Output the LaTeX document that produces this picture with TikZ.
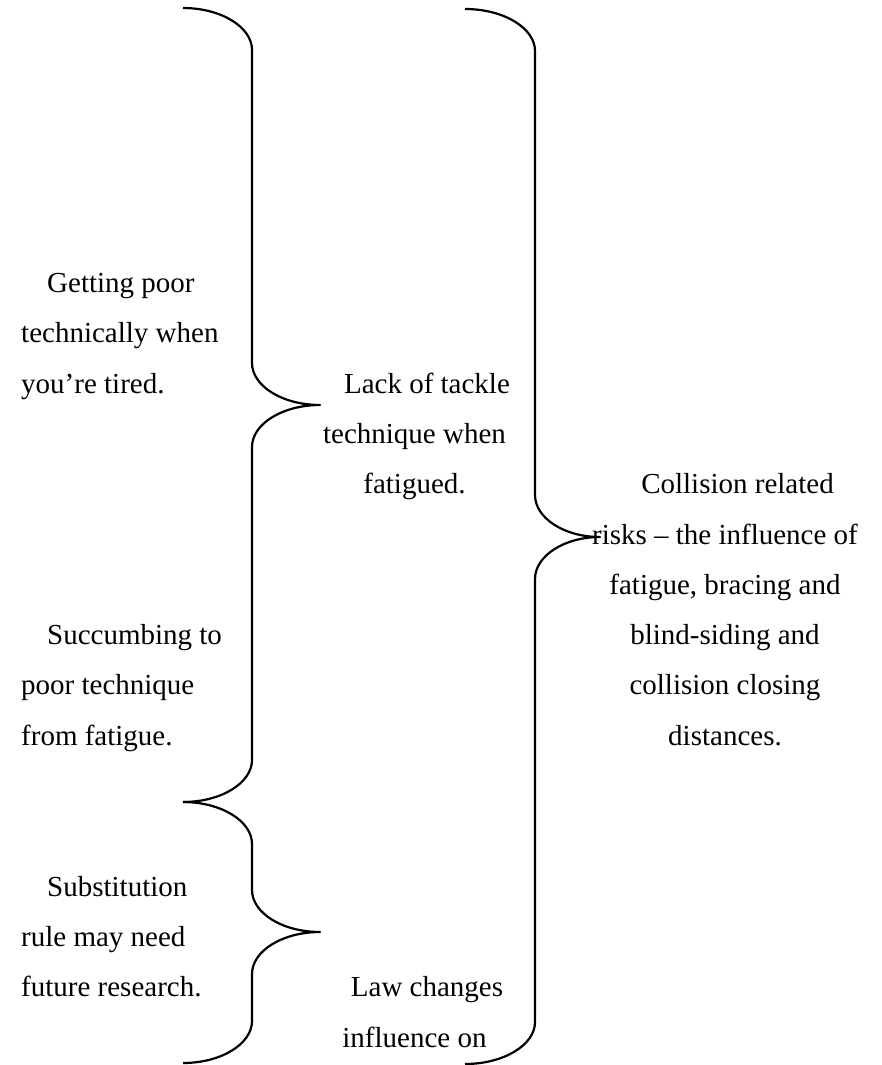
\documentclass[tikz,border=0pt]{standalone}
\usepackage{fontspec}
\setmainfont{Liberation Serif}

% Right-facing curly brace: end x, stem x, tip x, top y, tip y, bottom y
\newcommand\drawcurlybrace[6]{%
  \draw[bracestyle]
    (#1,#4) .. controls ({#1+0.552*(#2-#1)},#4) and (#2,#4+19) .. (#2,#4+42)
    -- (#2,#5-42) .. controls (#2,#5-19) and ({#3-0.552*(#3-#2)},#5) .. (#3,#5)
    .. controls ({#3-0.552*(#3-#2)},#5) and (#2,#5+19) .. (#2,#5+42)
    -- (#2,#6-42) .. controls (#2,#6-19) and ({#1+0.552*(#2-#1)},#6) .. (#1,#6);}

% text blocks are placed by the baseline of their last line
\tikzset{
  bracestyle/.style={line width=2.2pt, line join=round},
  txt/.style={inner sep=0pt, font=\fontsize{29}{50.3}\selectfont},
  lefttxt/.style={txt, align=left, anchor=base west},
  centertxt/.style={txt, align=center, anchor=base},
}

\begin{document}
\begin{tikzpicture}[x=1pt, y=-1pt]
  \useasboundingbox (0,0) rectangle (882,1065);

  % braces
  \drawcurlybrace{183}{252}{320}{8}{405}{802}
  \drawcurlybrace{183}{252}{320}{802}{932}{1063}
  \drawcurlybrace{465}{535}{600}{9}{537}{1064}

  % left column
  \node[lefttxt] (poor) at (21,393.1)
    {\hspace*{26pt}Getting poor\\technically when\\you’re tired.};
  \node[lefttxt] (succumb) at (21,745.2)
    {\hspace*{26pt}Succumbing to\\poor technique\\from fatigue.};
  \node[lefttxt] (subst) at (21,996.6)
    {\hspace*{26pt}Substitution\\rule may need\\future research.};

  % middle column
  \node[centertxt] (tackle) at (414.5,493.6)
    {\hspace*{25pt}Lack of tackle\\technique when\\fatigued.};
  \node[centertxt] (law) at (414.5,1047)
    {\hspace*{25pt}Law changes\\influence on};

  % right column
  \node[centertxt] (collision) at (725,745.2)
    {\hspace*{25pt}Collision related\\risks – the influence of\\fatigue, bracing and\\blind-siding and\\collision closing\\distances.};
\end{tikzpicture}
\end{document}
